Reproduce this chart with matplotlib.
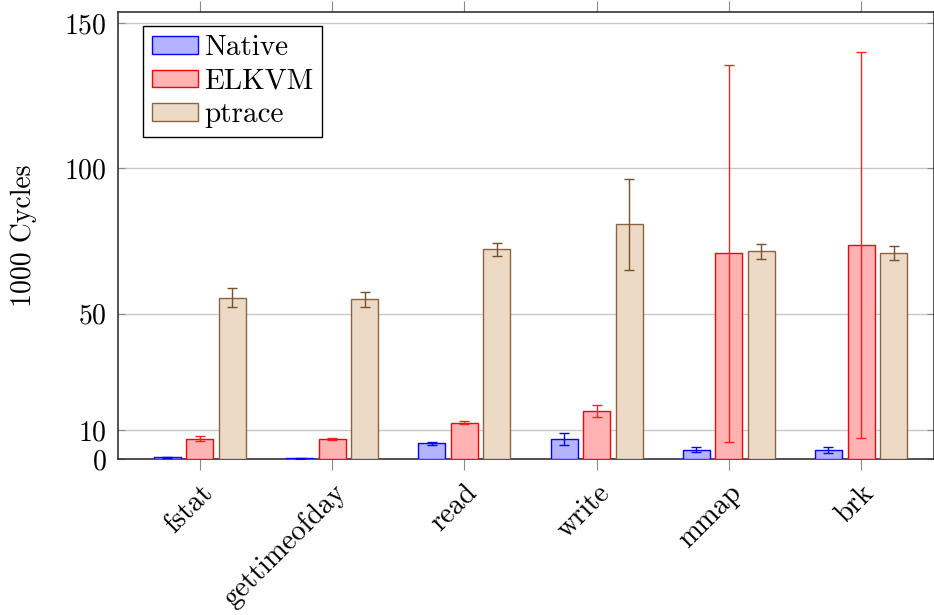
import matplotlib.pyplot as plt
import numpy as np

plt.rcParams["font.family"] = "cmr10"
plt.rcParams["axes.formatter.use_mathtext"] = True
plt.rcParams["font.size"] = 20

syscalls = ["fstat", "gettimeofday", "read", "write", "mmap", "brk"]

# 1000 cycles per call, mean and deviation
native = [0.6, 0.25, 5.4, 6.8, 3.2, 3.1]
native_err = [0.15, 0.1, 0.5, 2.0, 0.9, 0.9]
elkvm = [7.0, 6.9, 12.5, 16.5, 70.8, 73.5]
elkvm_err = [0.85, 0.35, 0.6, 2.2, 64.8, 66.4]
ptrace = [55.5, 54.9, 72.1, 80.7, 71.4, 70.9]
ptrace_err = [3.3, 2.7, 2.1, 15.8, 2.5, 2.5]

yticks = [0, 10, 50, 100, 150]

series = [
    ("Native", native, native_err, "#b3b3ff", "#0000ff", "#0000ff"),
    ("ELKVM", elkvm, elkvm_err, "#ffb3b3", "#ff0000", "#ff2020"),
    ("ptrace", ptrace, ptrace_err, "#ecd9c6", "#8c6440", "#7a5028"),
]

fig = plt.figure(figsize=(9.34, 6.15), dpi=100)
ax = fig.add_axes([0.1263, 0.2537, 0.8737, 0.7268])

x = np.arange(len(syscalls))
width = 0.204
step = 0.246

for i, (name, vals, errs, fill, edge, ecol) in enumerate(series):
    pos = x + (i - 1) * step
    ax.bar(pos, vals, width, color=fill, edgecolor=edge, linewidth=1.0,
           label=name, zorder=3)
    ax.errorbar(pos, vals, yerr=errs, fmt="none", ecolor=ecol,
                elinewidth=1.0, capsize=3.6, capthick=1.0, zorder=4)

ax.set_xlim(-0.62, 5.552)
ax.set_ylim(0, 153.8)
ax.set_yticks(yticks)
ax.set_xticks(x)
ax.set_xticklabels(syscalls, rotation=45, ha="right", va="top",
                   rotation_mode="anchor", fontsize=20.5)
ax.tick_params(axis="x", which="both", direction="out", length=8,
               color="#888888", top=True, bottom=True, pad=7)
ax.tick_params(axis="y", direction="in", length=5, color="#888888",
               left=True, right=True, pad=8)

ax.yaxis.grid(True, color="#c8c8c8", linewidth=1.0, zorder=0)
ax.set_axisbelow(True)
for sp in ax.spines.values():
    sp.set_color("#333333")
    sp.set_linewidth(1.2)

ax.set_ylabel("1000 Cycles", labelpad=20)

leg = ax.legend(loc="upper left", bbox_to_anchor=(0.0306, 0.9687),
                borderaxespad=0, fancybox=False, framealpha=1,
                edgecolor="black", handlelength=1.6, handleheight=0.55,
                handletextpad=0.2, labelspacing=0.25, borderpad=0.3,
                fontsize=21)
leg.get_frame().set_linewidth(1.0)

fig.savefig("out.png", dpi=100)
